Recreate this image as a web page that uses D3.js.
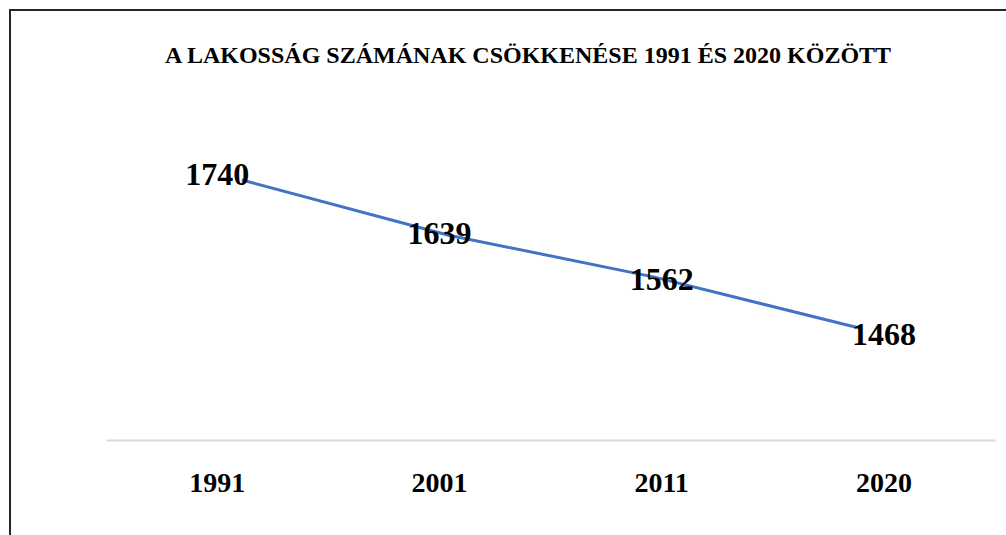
<!DOCTYPE html>
<html>
<head>
<meta charset="utf-8">
<script src="https://cdn.jsdelivr.net/npm/d3@7"></script>
<style>
  html, body { margin: 0; padding: 0; background: #fff; overflow: hidden; }
  text { font-family: "Liberation Serif", "Times New Roman", serif; font-weight: bold; fill: #000; }
</style>
</head>
<body>
<div id="chart"></div>
<script>
const years = ['1991', '2001', '2011', '2020'];
const population = [1740, 1639, 1562, 1468];
const title = 'A LAKOSSÁG SZÁMÁNAK CSÖKKENÉSE 1991 ÉS 2020 KÖZÖTT';

const width = 1006;
const height = 535;
const plotLeft = 106;
const plotRight = 995;
const baseline = 440;

const svg = d3.select('#chart')
  .append('svg')
  .attr('width', width)
  .attr('height', height);

// frame (only top and left edges are visible in the crop)
svg.append('rect')
  .attr('x', 10)
  .attr('y', 10)
  .attr('width', 1100)
  .attr('height', 700)
  .attr('fill', 'none')
  .attr('stroke', '#262626')
  .attr('stroke-width', 2);

svg.append('text')
  .attr('x', 528)
  .attr('y', 63)
  .attr('text-anchor', 'middle')
  .style('font-size', '24px')
  .text(title);

const xBand = d3.scaleBand()
  .domain(years)
  .range([plotLeft, plotRight]);

const xLine = d3.scalePoint()
  .domain(years)
  .range([plotLeft, plotRight])
  .padding(0.66);

const yLine = d3.scaleLinear()
  .domain([d3.min(population), d3.max(population)])
  .range([328, 180]);

const yLabel = d3.scaleLinear()
  .domain([d3.min(population), d3.max(population)])
  .range([345, 185]);

// category axis
const xAxis = svg.append('g')
  .attr('transform', `translate(0, ${baseline})`)
  .call(d3.axisBottom(xBand).tickSize(0).tickPadding(32));

xAxis.select('.domain')
  .attr('stroke', '#d9d9d9')
  .attr('stroke-width', 2);

xAxis.selectAll('text')
  .style('font-family', '"Liberation Serif", serif')
  .style('font-size', '28px')
  .style('font-weight', 'bold')
  .attr('fill', '#000')
  .attr('dy', '0.71em');

const line = d3.line()
  .x((d, i) => xLine(years[i]))
  .y(d => yLine(d));

svg.append('path')
  .datum(population)
  .attr('fill', 'none')
  .attr('stroke', '#4472c4')
  .attr('stroke-width', 3)
  .attr('stroke-linejoin', 'round')
  .attr('d', line);

svg.selectAll('.value-label')
  .data(population)
  .enter()
  .append('text')
  .attr('class', 'value-label')
  .attr('x', (d, i) => xBand(years[i]) + xBand.bandwidth() / 2)
  .attr('y', d => yLabel(d))
  .attr('text-anchor', 'middle')
  .style('font-size', '32px')
  .text(d => d);
</script>
</body>
</html>
